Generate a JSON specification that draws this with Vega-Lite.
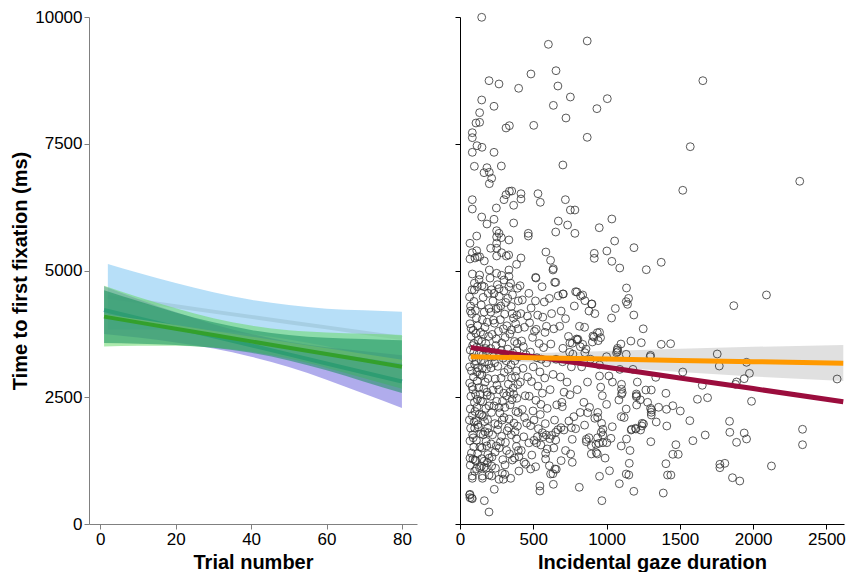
{
"$schema":"https://vega.github.io/schema/vega-lite/v6.json",
"background":"white",
"padding":{"left":10,"top":8,"right":0,"bottom":0},
"config":{"view":{"stroke":null},"font":"Liberation Sans",
 "axis":{"grid":false,"format":"d","labelFontSize":17,"titleFontSize":20,"titleFontWeight":"bold","labelColor":"black","titleColor":"black","tickSize":5,"labelPadding":2,"labelFlush":false,"labelFont":"Liberation Sans","titleFont":"Liberation Sans"}},
"datasets":{
"bands":[
{"g":"Handle Irrelevant","t":2,"m":4480,"lo":3830,"hi":5130},{"g":"Handle Irrelevant","t":10,"m":4397,"lo":3837,"hi":4957},{"g":"Handle Irrelevant","t":20,"m":4293,"lo":3833,"hi":4753},{"g":"Handle Irrelevant","t":30,"m":4189,"lo":3809,"hi":4569},{"g":"Handle Irrelevant","t":40,"m":4085,"lo":3745,"hi":4425},{"g":"Handle Irrelevant","t":50,"m":3981,"lo":3641,"hi":4321},{"g":"Handle Irrelevant","t":60,"m":3878,"lo":3508,"hi":4248},{"g":"Handle Irrelevant","t":70,"m":3774,"lo":3334,"hi":4214},{"g":"Handle Irrelevant","t":80,"m":3670,"lo":3153,"hi":4187},
{"g":"Handle Relevant","t":1,"m":4220,"lo":3750,"hi":4690},{"g":"Handle Relevant","t":10,"m":4059,"lo":3679,"hi":4439},{"g":"Handle Relevant","t":20,"m":3881,"lo":3581,"hi":4181},{"g":"Handle Relevant","t":30,"m":3702,"lo":3462,"hi":3942},{"g":"Handle Relevant","t":40,"m":3524,"lo":3299,"hi":3749},{"g":"Handle Relevant","t":50,"m":3345,"lo":3095,"hi":3595},{"g":"Handle Relevant","t":60,"m":3167,"lo":2847,"hi":3487},{"g":"Handle Relevant","t":70,"m":2988,"lo":2568,"hi":3408},{"g":"Handle Relevant","t":80,"m":2810,"lo":2290,"hi":3330},
{"g":"Find Irrelevant","t":1,"m":4100,"lo":3500,"hi":4700},{"g":"Find Irrelevant","t":10,"m":3998,"lo":3518,"hi":4478},{"g":"Find Irrelevant","t":20,"m":3884,"lo":3514,"hi":4254},{"g":"Find Irrelevant","t":30,"m":3770,"lo":3480,"hi":4060},{"g":"Find Irrelevant","t":40,"m":3656,"lo":3396,"hi":3916},{"g":"Find Irrelevant","t":50,"m":3542,"lo":3262,"hi":3822},{"g":"Find Irrelevant","t":60,"m":3428,"lo":3078,"hi":3778},{"g":"Find Irrelevant","t":70,"m":3314,"lo":2874,"hi":3754},{"g":"Find Irrelevant","t":80,"m":3200,"lo":2670,"hi":3730},
{"g":"Find Relevant","t":1,"m":4090,"lo":3570,"hi":4610},{"g":"Find Relevant","t":10,"m":3977,"lo":3557,"hi":4397},{"g":"Find Relevant","t":20,"m":3852,"lo":3532,"hi":4172},{"g":"Find Relevant","t":30,"m":3727,"lo":3477,"hi":3977},{"g":"Find Relevant","t":40,"m":3602,"lo":3377,"hi":3827},{"g":"Find Relevant","t":50,"m":3477,"lo":3227,"hi":3727},{"g":"Find Relevant","t":60,"m":3352,"lo":3032,"hi":3672},{"g":"Find Relevant","t":70,"m":3228,"lo":2808,"hi":3648},{"g":"Find Relevant","t":80,"m":3103,"lo":2583,"hi":3623}
],
"fit":[
{"gaze":73,"o":3300,"c":3480,"lo":3220,"hi":3380},{"gaze":500,"o":3278,"c":3301,"lo":3190,"hi":3366},{"gaze":1000,"o":3253,"c":3091,"lo":3100,"hi":3410},{"gaze":1500,"o":3227,"c":2881,"lo":3000,"hi":3455},{"gaze":2000,"o":3202,"c":2671,"lo":2910,"hi":3495},{"gaze":2615,"o":3170,"c":2413,"lo":2820,"hi":3530}
],
"pts":[
{"gaze":148,"ttff":9994},{"gaze":603,"ttff":9461},{"gaze":868,"ttff":9527},{"gaze":198,"ttff":8744},{"gaze":266,"ttff":8679},{"gaze":400,"ttff":8594},{"gaze":484,"ttff":8876},{"gaze":655,"ttff":8941},{"gaze":668,"ttff":8639},{"gaze":1657,"ttff":8744},{"gaze":148,"ttff":8363},{"gaze":134,"ttff":8113},{"gaze":109,"ttff":7909},{"gaze":134,"ttff":7923},{"gaze":232,"ttff":8239},{"gaze":314,"ttff":7811},{"gaze":337,"ttff":7856},{"gaze":503,"ttff":7863},{"gaze":753,"ttff":8422},{"gaze":637,"ttff":8257},{"gaze":723,"ttff":8008},{"gaze":1005,"ttff":8389},{"gaze":934,"ttff":8192},{"gaze":84,"ttff":7718},{"gaze":84,"ttff":7620},{"gaze":116,"ttff":7462},{"gaze":150,"ttff":7430},{"gaze":84,"ttff":7331},{"gaze":232,"ttff":7331},{"gaze":868,"ttff":7627},{"gaze":1571,"ttff":7442},{"gaze":98,"ttff":7055},{"gaze":184,"ttff":7028},{"gaze":164,"ttff":6929},{"gaze":200,"ttff":6937},{"gaze":216,"ttff":6819},{"gaze":200,"ttff":6712},{"gaze":282,"ttff":7061},{"gaze":702,"ttff":7081},{"gaze":2318,"ttff":6760},{"gaze":1520,"ttff":6582},{"gaze":84,"ttff":6397},{"gaze":84,"ttff":6213},{"gaze":300,"ttff":6397},{"gaze":314,"ttff":6495},{"gaze":337,"ttff":6562},{"gaze":353,"ttff":6568},{"gaze":416,"ttff":6515},{"gaze":416,"ttff":6410},{"gaze":532,"ttff":6515},{"gaze":548,"ttff":6345},{"gaze":366,"ttff":6286},{"gaze":248,"ttff":6233},{"gaze":719,"ttff":6397},{"gaze":753,"ttff":6193},{"gaze":784,"ttff":6193},{"gaze":148,"ttff":6055},{"gaze":232,"ttff":6010},{"gaze":184,"ttff":5917},{"gaze":366,"ttff":5937},{"gaze":671,"ttff":5976},{"gaze":734,"ttff":5897},{"gaze":653,"ttff":5759},{"gaze":784,"ttff":5733},{"gaze":1036,"ttff":6016},{"gaze":950,"ttff":5844},{"gaze":466,"ttff":5733},{"gaze":466,"ttff":5680},{"gaze":114,"ttff":5680},{"gaze":250,"ttff":5785},{"gaze":266,"ttff":5733},{"gaze":250,"ttff":5661},{"gaze":282,"ttff":5648},{"gaze":250,"ttff":5537},{"gaze":250,"ttff":5438},{"gaze":209,"ttff":5438},{"gaze":334,"ttff":5602},{"gaze":68,"ttff":5537},{"gaze":84,"ttff":5351},{"gaze":114,"ttff":5391},{"gaze":119,"ttff":5272},{"gaze":134,"ttff":5272},{"gaze":68,"ttff":5227},{"gaze":102,"ttff":5247},{"gaze":166,"ttff":5188},{"gaze":284,"ttff":5351},{"gaze":250,"ttff":5286},{"gaze":316,"ttff":5286},{"gaze":332,"ttff":5306},{"gaze":416,"ttff":5247},{"gaze":386,"ttff":5122},{"gaze":586,"ttff":5365},{"gaze":618,"ttff":5201},{"gaze":637,"ttff":5036},{"gaze":653,"ttff":4767},{"gaze":518,"ttff":4852},{"gaze":916,"ttff":5339},{"gaze":916,"ttff":5240},{"gaze":1002,"ttff":5385},{"gaze":1036,"ttff":5181},{"gaze":1090,"ttff":5049},{"gaze":1187,"ttff":5450},{"gaze":1271,"ttff":5016},{"gaze":1373,"ttff":5162},{"gaze":1136,"ttff":4655},{"gaze":705,"ttff":4537},{"gaze":798,"ttff":4576},{"gaze":837,"ttff":4517},{"gaze":2091,"ttff":4517},{"gaze":84,"ttff":4931},{"gaze":134,"ttff":4911},{"gaze":200,"ttff":5010},{"gaze":250,"ttff":4945},{"gaze":284,"ttff":4905},{"gaze":334,"ttff":5010},{"gaze":334,"ttff":4886},{"gaze":300,"ttff":4813},{"gaze":334,"ttff":4681},{"gaze":98,"ttff":4615},{"gaze":119,"ttff":4681},{"gaze":164,"ttff":4681},{"gaze":266,"ttff":4641},{"gaze":232,"ttff":4550},{"gaze":1055,"ttff":5582},
{"gaze":1868,"ttff":4306},{"gaze":1755,"ttff":3353},{"gaze":1769,"ttff":3116},{"gaze":1955,"ttff":3189},{"gaze":1975,"ttff":2972},{"gaze":1939,"ttff":2866},{"gaze":1887,"ttff":2801},{"gaze":1880,"ttff":2755},{"gaze":2573,"ttff":2860},{"gaze":1989,"ttff":2420},{"gaze":1653,"ttff":2736},{"gaze":1620,"ttff":2460},{"gaze":1689,"ttff":2491},{"gaze":1520,"ttff":2998},{"gaze":1373,"ttff":3544},{"gaze":1437,"ttff":3556},{"gaze":1237,"ttff":3576},{"gaze":1166,"ttff":3609},{"gaze":1300,"ttff":3327},{"gaze":1336,"ttff":2893},{"gaze":1405,"ttff":2578},{"gaze":1268,"ttff":2643},{"gaze":1305,"ttff":2643},{"gaze":1203,"ttff":2564},{"gaze":1203,"ttff":2511},{"gaze":1102,"ttff":2755},{"gaze":1102,"ttff":2657},{"gaze":1102,"ttff":2558},{"gaze":1134,"ttff":2268},{"gaze":1307,"ttff":2249},{"gaze":1305,"ttff":2150},{"gaze":1355,"ttff":2302},{"gaze":1409,"ttff":2262},{"gaze":1452,"ttff":2333},{"gaze":1503,"ttff":2229},{"gaze":1568,"ttff":2038},{"gaze":1411,"ttff":1933},{"gaze":1339,"ttff":2012},{"gaze":1252,"ttff":1973},{"gaze":1241,"ttff":1933},{"gaze":1171,"ttff":1868},{"gaze":1200,"ttff":1874},{"gaze":1673,"ttff":1755},{"gaze":1589,"ttff":1643},{"gaze":1839,"ttff":2026},{"gaze":1841,"ttff":1809},{"gaze":1939,"ttff":1795},{"gaze":1955,"ttff":1677},{"gaze":1887,"ttff":1611},{"gaze":2337,"ttff":1868},{"gaze":2337,"ttff":1564},{"gaze":2125,"ttff":1144},{"gaze":1773,"ttff":1178},{"gaze":1773,"ttff":1110},{"gaze":1807,"ttff":1197},{"gaze":1859,"ttff":913},{"gaze":1909,"ttff":848},{"gaze":1473,"ttff":1564},{"gaze":1452,"ttff":1375},{"gaze":1489,"ttff":1375},{"gaze":1405,"ttff":1189},{"gaze":1416,"ttff":966},{"gaze":1439,"ttff":966},{"gaze":1387,"ttff":611},{"gaze":1302,"ttff":1623},{"gaze":1186,"ttff":645},{"gaze":1152,"ttff":966},{"gaze":1134,"ttff":986},{"gaze":1155,"ttff":1197},{"gaze":1087,"ttff":795},{"gaze":968,"ttff":460},{"gaze":952,"ttff":941},{"gaze":814,"ttff":724},{"gaze":545,"ttff":750},{"gaze":545,"ttff":651},{"gaze":637,"ttff":783},{"gaze":618,"ttff":986},{"gaze":657,"ttff":1079},{"gaze":234,"ttff":684},{"gaze":166,"ttff":460},{"gaze":198,"ttff":237},{"gaze":68,"ttff":586},{"gaze":68,"ttff":519},{"gaze":84,"ttff":499},{"gaze":1030,"ttff":1690},{"gaze":939,"ttff":1702},{"gaze":862,"ttff":1670},{"gaze":928,"ttff":1572},{"gaze":896,"ttff":1544},{"gaze":975,"ttff":1755},{"gaze":975,"ttff":1604},{"gaze":1002,"ttff":1604},{"gaze":937,"ttff":1381},{"gaze":896,"ttff":1381},
{"gaze":850,"ttff":3880},{"gaze":900,"ttff":4339},{"gaze":937,"ttff":3773},{"gaze":952,"ttff":3781},{"gaze":914,"ttff":3688},{"gaze":959,"ttff":3675},{"gaze":943,"ttff":3616},{"gaze":796,"ttff":3649},{"gaze":805,"ttff":3643},{"gaze":750,"ttff":3576},{"gaze":852,"ttff":3379},{"gaze":837,"ttff":3544},{"gaze":1098,"ttff":3550},{"gaze":1073,"ttff":3432},{"gaze":1068,"ttff":3379},{"gaze":1134,"ttff":4385},{"gaze":1143,"ttff":4333},{"gaze":1186,"ttff":4122},{"gaze":1034,"ttff":4063},{"gaze":903,"ttff":3590},{"gaze":907,"ttff":3708},{"gaze":1075,"ttff":3465},{"gaze":1075,"ttff":3399},{"gaze":1134,"ttff":3347},{"gaze":1298,"ttff":3300},{"gaze":952,"ttff":3136},{"gaze":1016,"ttff":2919},{"gaze":952,"ttff":2919},{"gaze":800,"ttff":3629},{"gaze":766,"ttff":3564},{"gaze":821,"ttff":3497},{"gaze":702,"ttff":3465},{"gaze":748,"ttff":3386},{"gaze":516,"ttff":4865},{"gaze":634,"ttff":5010},{"gaze":702,"ttff":4537},{"gaze":789,"ttff":4582},{"gaze":823,"ttff":4497},{"gaze":852,"ttff":4405},{"gaze":898,"ttff":4339},{"gaze":646,"ttff":4767},
{"gaze":66,"ttff":572},{"gaze":80,"ttff":507},{"gaze":84,"ttff":947},{"gaze":84,"ttff":901},{"gaze":153,"ttff":947},{"gaze":153,"ttff":901},{"gaze":198,"ttff":966},{"gaze":216,"ttff":947},{"gaze":266,"ttff":882},{"gaze":296,"ttff":882},{"gaze":346,"ttff":901},{"gaze":307,"ttff":980},{"gaze":112,"ttff":1091},{"gaze":134,"ttff":1110},{"gaze":164,"ttff":1118},{"gaze":216,"ttff":1144},{"gaze":187,"ttff":1209},{"gaze":107,"ttff":1249},{"gaze":148,"ttff":1288},{"gaze":289,"ttff":1000},{"gaze":307,"ttff":1164},{"gaze":357,"ttff":1262},{"gaze":402,"ttff":1045},{"gaze":482,"ttff":1085},{"gaze":437,"ttff":1217},{"gaze":516,"ttff":1130},{"gaze":402,"ttff":1328},{"gaze":648,"ttff":1085},{"gaze":634,"ttff":992},{"gaze":755,"ttff":1381},{"gaze":766,"ttff":1217},{"gaze":584,"ttff":1282},{"gaze":584,"ttff":1394},{"gaze":930,"ttff":1406},{"gaze":948,"ttff":1591},{"gaze":880,"ttff":1702},{"gaze":862,"ttff":1623},{"gaze":766,"ttff":1670},{"gaze":653,"ttff":1809},{"gaze":668,"ttff":1860},{"gaze":689,"ttff":1900},{"gaze":653,"ttff":1657},{"gaze":612,"ttff":1683},{"gaze":589,"ttff":1755},{"gaze":552,"ttff":1558},{"gaze":528,"ttff":1722},{"gaze":562,"ttff":1801},{"gaze":698,"ttff":2314},{"gaze":777,"ttff":2117},{"gaze":789,"ttff":1880},{"gaze":743,"ttff":2032},{"gaze":709,"ttff":1854},{"gaze":871,"ttff":2195},{"gaze":884,"ttff":2301},{"gaze":920,"ttff":2085},{"gaze":939,"ttff":2104},{"gaze":966,"ttff":1986},{"gaze":975,"ttff":1868},{"gaze":964,"ttff":1809},{"gaze":1000,"ttff":2360},{"gaze":971,"ttff":2531},{"gaze":1039,"ttff":1919},{"gaze":1107,"ttff":2590},{"gaze":1100,"ttff":2117},{"gaze":1084,"ttff":2446},{"gaze":1205,"ttff":2347},{"gaze":1205,"ttff":2531},{"gaze":1300,"ttff":2282},{"gaze":1305,"ttff":2203},{"gaze":1243,"ttff":1986},{"gaze":1198,"ttff":1888},{"gaze":1232,"ttff":1854},{"gaze":1168,"ttff":1854},{"gaze":1136,"ttff":1677},{"gaze":1100,"ttff":1539},
{"gaze":65,"ttff":4480},{"gaze":72,"ttff":4300},{"gaze":80,"ttff":4150},{"gaze":68,"ttff":3950},{"gaze":90,"ttff":3820},{"gaze":75,"ttff":3700},{"gaze":95,"ttff":3560},{"gaze":70,"ttff":3430},{"gaze":85,"ttff":3280},{"gaze":100,"ttff":3150},{"gaze":78,"ttff":3020},{"gaze":92,"ttff":2900},{"gaze":66,"ttff":2780},{"gaze":88,"ttff":2650},{"gaze":74,"ttff":2520},{"gaze":98,"ttff":2400},{"gaze":70,"ttff":2270},{"gaze":84,"ttff":2140},{"gaze":96,"ttff":2010},{"gaze":72,"ttff":1890},{"gaze":86,"ttff":1760},{"gaze":68,"ttff":1640},{"gaze":94,"ttff":1520},{"gaze":78,"ttff":1400},{"gaze":88,"ttff":1280},{"gaze":70,"ttff":1160},{"gaze":100,"ttff":1040},{"gaze":82,"ttff":4620},{"gaze":95,"ttff":4390},{"gaze":105,"ttff":4210},{"gaze":112,"ttff":4060},{"gaze":120,"ttff":3910},{"gaze":108,"ttff":3760},{"gaze":125,"ttff":3620},{"gaze":115,"ttff":3490},{"gaze":130,"ttff":3350},{"gaze":110,"ttff":3210},{"gaze":122,"ttff":3080},{"gaze":135,"ttff":2950},{"gaze":118,"ttff":2820},{"gaze":128,"ttff":2690},{"gaze":106,"ttff":2560},{"gaze":140,"ttff":2430},{"gaze":115,"ttff":2300},{"gaze":132,"ttff":2170},{"gaze":108,"ttff":2040},{"gaze":126,"ttff":1910},{"gaze":142,"ttff":1780},{"gaze":112,"ttff":1650},{"gaze":136,"ttff":1520},{"gaze":120,"ttff":1390},{"gaze":104,"ttff":1260},{"gaze":146,"ttff":1140},{"gaze":150,"ttff":4700},{"gaze":158,"ttff":4470},{"gaze":145,"ttff":4320},{"gaze":165,"ttff":4180},{"gaze":152,"ttff":4030},{"gaze":170,"ttff":3880},{"gaze":160,"ttff":3740},{"gaze":148,"ttff":3600},{"gaze":175,"ttff":3460},{"gaze":155,"ttff":3330},{"gaze":168,"ttff":3190},{"gaze":180,"ttff":3060},{"gaze":150,"ttff":2930},{"gaze":172,"ttff":2800},{"gaze":162,"ttff":2670},{"gaze":185,"ttff":2540},{"gaze":155,"ttff":2410},{"gaze":176,"ttff":2280},{"gaze":148,"ttff":2150},{"gaze":168,"ttff":2020},{"gaze":188,"ttff":1890},{"gaze":158,"ttff":1760},{"gaze":178,"ttff":1630},{"gaze":150,"ttff":1500},{"gaze":190,"ttff":1370},{"gaze":165,"ttff":1240},{"gaze":180,"ttff":1100},{"gaze":192,"ttff":4550},{"gaze":198,"ttff":4250},{"gaze":186,"ttff":3980},{"gaze":195,"ttff":3700},{"gaze":182,"ttff":3420},{"gaze":197,"ttff":3150},{"gaze":190,"ttff":2870},{"gaze":184,"ttff":2600},{"gaze":198,"ttff":2330},{"gaze":188,"ttff":2060},{"gaze":196,"ttff":1800},{"gaze":183,"ttff":1540},{"gaze":199,"ttff":1300},{"gaze":76,"ttff":3860},{"gaze":94,"ttff":3380},{"gaze":82,"ttff":2710},{"gaze":102,"ttff":2220},{"gaze":90,"ttff":1700},{"gaze":116,"ttff":3000},{"gaze":138,"ttff":2560},{"gaze":122,"ttff":1960},{"gaze":144,"ttff":3230},{"gaze":160,"ttff":2120},{"gaze":176,"ttff":3560},{"gaze":170,"ttff":1820},{"gaze":64,"ttff":2050},{"gaze":66,"ttff":3100},{"gaze":68,"ttff":1300},{"gaze":71,"ttff":4200},{"gaze":98,"ttff":4750},{"gaze":130,"ttff":4820},{"gaze":100,"ttff":1890},{"gaze":140,"ttff":3780},{"gaze":86,"ttff":3520},{"gaze":118,"ttff":2460},{"gaze":152,"ttff":3070},
{"gaze":205,"ttff":4850},{"gaze":215,"ttff":4620},{"gaze":225,"ttff":4400},{"gaze":210,"ttff":4180},{"gaze":235,"ttff":3960},{"gaze":220,"ttff":3740},{"gaze":245,"ttff":3520},{"gaze":230,"ttff":3300},{"gaze":212,"ttff":3080},{"gaze":240,"ttff":2860},{"gaze":225,"ttff":2640},{"gaze":250,"ttff":2420},{"gaze":215,"ttff":2200},{"gaze":238,"ttff":1980},{"gaze":222,"ttff":1760},{"gaze":248,"ttff":1540},{"gaze":218,"ttff":1320},{"gaze":242,"ttff":1100},{"gaze":255,"ttff":4720},{"gaze":268,"ttff":4490},{"gaze":260,"ttff":4260},{"gaze":275,"ttff":4030},{"gaze":262,"ttff":3800},{"gaze":285,"ttff":3570},{"gaze":270,"ttff":3340},{"gaze":258,"ttff":3110},{"gaze":280,"ttff":2880},{"gaze":265,"ttff":2650},{"gaze":290,"ttff":2420},{"gaze":272,"ttff":2190},{"gaze":260,"ttff":1960},{"gaze":284,"ttff":1730},{"gaze":268,"ttff":1500},{"gaze":292,"ttff":1270},{"gaze":300,"ttff":4600},{"gaze":312,"ttff":4370},{"gaze":305,"ttff":4140},{"gaze":320,"ttff":3910},{"gaze":308,"ttff":3680},{"gaze":325,"ttff":3450},{"gaze":315,"ttff":3220},{"gaze":302,"ttff":2990},{"gaze":330,"ttff":2760},{"gaze":318,"ttff":2530},{"gaze":306,"ttff":2300},{"gaze":335,"ttff":2070},{"gaze":322,"ttff":1840},{"gaze":310,"ttff":1610},{"gaze":338,"ttff":1380},{"gaze":345,"ttff":4750},{"gaze":358,"ttff":4520},{"gaze":350,"ttff":4290},{"gaze":365,"ttff":4060},{"gaze":352,"ttff":3830},{"gaze":372,"ttff":3600},{"gaze":360,"ttff":3370},{"gaze":348,"ttff":3140},{"gaze":378,"ttff":2910},{"gaze":362,"ttff":2680},{"gaze":355,"ttff":2450},{"gaze":382,"ttff":2220},{"gaze":368,"ttff":1990},{"gaze":350,"ttff":1760},{"gaze":385,"ttff":1530},{"gaze":372,"ttff":1300},{"gaze":392,"ttff":4650},{"gaze":398,"ttff":4400},{"gaze":388,"ttff":4120},{"gaze":396,"ttff":3850},{"gaze":390,"ttff":3560},{"gaze":398,"ttff":3300},{"gaze":386,"ttff":3020},{"gaze":394,"ttff":2750},{"gaze":388,"ttff":2480},{"gaze":397,"ttff":2200},{"gaze":392,"ttff":1930},{"gaze":386,"ttff":1680},{"gaze":398,"ttff":1450},{"gaze":228,"ttff":4020},{"gaze":248,"ttff":3650},{"gaze":236,"ttff":3180},{"gaze":252,"ttff":2740},{"gaze":232,"ttff":2330},{"gaze":256,"ttff":1860},{"gaze":240,"ttff":1420},{"gaze":278,"ttff":4300},{"gaze":296,"ttff":3850},{"gaze":282,"ttff":3420},{"gaze":298,"ttff":2580},{"gaze":288,"ttff":2050},{"gaze":276,"ttff":1620},{"gaze":326,"ttff":4450},{"gaze":340,"ttff":3750},{"gaze":328,"ttff":3050},{"gaze":342,"ttff":2350},{"gaze":332,"ttff":1900},{"gaze":356,"ttff":4150},{"gaze":374,"ttff":3220},{"gaze":366,"ttff":2560},{"gaze":376,"ttff":1820},{"gaze":208,"ttff":2520},{"gaze":212,"ttff":1580},{"gaze":266,"ttff":2300},{"gaze":294,"ttff":3270},{"gaze":318,"ttff":1450},{"gaze":352,"ttff":2880},{"gaze":380,"ttff":3950},{"gaze":210,"ttff":3460},{"gaze":246,"ttff":4240},{"gaze":300,"ttff":2100},{"gaze":340,"ttff":2600},{"gaze":388,"ttff":3420},
{"gaze":410,"ttff":4700},{"gaze":425,"ttff":4420},{"gaze":415,"ttff":4150},{"gaze":440,"ttff":3880},{"gaze":420,"ttff":3610},{"gaze":450,"ttff":3340},{"gaze":430,"ttff":3070},{"gaze":412,"ttff":2800},{"gaze":445,"ttff":2530},{"gaze":425,"ttff":2260},{"gaze":455,"ttff":1990},{"gaze":435,"ttff":1720},{"gaze":418,"ttff":1450},{"gaze":448,"ttff":1180},{"gaze":470,"ttff":4550},{"gaze":485,"ttff":4260},{"gaze":475,"ttff":3970},{"gaze":495,"ttff":3680},{"gaze":480,"ttff":3390},{"gaze":500,"ttff":3100},{"gaze":488,"ttff":2810},{"gaze":472,"ttff":2520},{"gaze":498,"ttff":2230},{"gaze":482,"ttff":1940},{"gaze":505,"ttff":1650},{"gaze":490,"ttff":1360},{"gaze":515,"ttff":4400},{"gaze":530,"ttff":4120},{"gaze":520,"ttff":3840},{"gaze":540,"ttff":3560},{"gaze":525,"ttff":3280},{"gaze":545,"ttff":3000},{"gaze":532,"ttff":2720},{"gaze":518,"ttff":2440},{"gaze":548,"ttff":2160},{"gaze":535,"ttff":1880},{"gaze":522,"ttff":1600},{"gaze":560,"ttff":4680},{"gaze":575,"ttff":4380},{"gaze":565,"ttff":4080},{"gaze":580,"ttff":3780},{"gaze":570,"ttff":3480},{"gaze":590,"ttff":3180},{"gaze":578,"ttff":2880},{"gaze":562,"ttff":2580},{"gaze":595,"ttff":2280},{"gaze":582,"ttff":1980},{"gaze":568,"ttff":1720},{"gaze":595,"ttff":1480},{"gaze":432,"ttff":3500},{"gaze":462,"ttff":2900},{"gaze":508,"ttff":3800},{"gaze":552,"ttff":2360},{"gaze":460,"ttff":4100},{"gaze":505,"ttff":2050},{"gaze":590,"ttff":3900},{"gaze":440,"ttff":2100},{"gaze":470,"ttff":1600},{"gaze":555,"ttff":3250},
{"gaze":610,"ttff":4450},{"gaze":625,"ttff":4150},{"gaze":640,"ttff":3850},{"gaze":620,"ttff":3550},{"gaze":655,"ttff":3250},{"gaze":635,"ttff":2950},{"gaze":615,"ttff":2650},{"gaze":660,"ttff":2350},{"gaze":645,"ttff":2050},{"gaze":625,"ttff":1750},{"gaze":670,"ttff":4500},{"gaze":690,"ttff":4200},{"gaze":680,"ttff":3900},{"gaze":700,"ttff":3200},{"gaze":685,"ttff":2900},{"gaze":710,"ttff":2600},{"gaze":695,"ttff":2400},{"gaze":720,"ttff":4050},{"gaze":740,"ttff":3700},{"gaze":730,"ttff":2800},{"gaze":760,"ttff":3100},{"gaze":750,"ttff":2550},{"gaze":780,"ttff":4300},{"gaze":770,"ttff":3350},{"gaze":800,"ttff":2650},{"gaze":815,"ttff":3900},{"gaze":830,"ttff":3100},{"gaze":845,"ttff":2400},{"gaze":860,"ttff":3450},{"gaze":880,"ttff":4200},{"gaze":870,"ttff":2800},{"gaze":890,"ttff":3250},{"gaze":720,"ttff":1450},{"gaze":690,"ttff":1250},{"gaze":640,"ttff":1500},{"gaze":610,"ttff":1150},{"gaze":760,"ttff":1900},{"gaze":820,"ttff":2200},{"gaze":850,"ttff":1950},
{"gaze":920,"ttff":4150},{"gaze":960,"ttff":2700},{"gaze":1000,"ttff":3300},{"gaze":1040,"ttff":2800},{"gaze":1060,"ttff":4250},{"gaze":1090,"ttff":3050},{"gaze":1120,"ttff":2100},{"gaze":1150,"ttff":4450},{"gaze":1180,"ttff":3050},{"gaze":1210,"ttff":2800},{"gaze":1250,"ttff":3850},{"gaze":1280,"ttff":2400},{"gaze":940,"ttff":2200},{"gaze":990,"ttff":1300},{"gaze":1020,"ttff":1050},{"gaze":1160,"ttff":1450},{"gaze":1230,"ttff":2450}
]
},
"spacing":37,
"hconcat":[
{
"width":328,"height":507,
"encoding":{"x":{"field":"t","type":"quantitative","title":"Trial number","scale":{"domain":[-3,84],"nice":false,"zero":false},"axis":{"values":[0,20,40,60,80],"domainColor":"#808080","tickColor":"#808080","titlePadding":5}}},
"layer":[
{"data":{"name":"bands"},"transform":[{"filter":"datum.g === 'Handle Irrelevant'"}],"mark":{"type":"area","interpolate":"monotone","opacity":0.55},
 "encoding":{"y":{"field":"lo","type":"quantitative","title":"Time to first fixation (ms)","scale":{"domain":[0,10000],"nice":false},"axis":{"values":[0,2500,5000,7500,10000],"domainColor":"#808080","tickColor":"#808080","titlePadding":4}},"y2":{"field":"hi"},
 "fill":{"field":"g","type":"nominal","scale":{"domain":["Handle Irrelevant","Handle Relevant","Find Irrelevant","Find Relevant"],"range":["#7cc5f2","#7068dc","#6ad86a","#1a8f5f"]},"legend":null}}},
{"data":{"name":"bands"},"transform":[{"filter":"datum.g === 'Handle Irrelevant'"}],"mark":{"type":"line","strokeWidth":4},
 "encoding":{"y":{"field":"m","type":"quantitative","title":"Time to first fixation (ms)"},
 "stroke":{"field":"g","type":"nominal","scale":{"domain":["Handle Irrelevant","Handle Relevant","Find Irrelevant","Find Relevant"],"range":["#a6cee3","#1f78b4","#b2df8a","#33a02c"]},
  "legend":{"orient":"none","legendX":115,"legendY":77,"title":null,"symbolType":"M-0.7,0L0.7,0","symbolSize":289,"symbolStrokeWidth":4,"labelFontSize":17,"labelFontWeight":"bold","labelColor":"black","rowPadding":0,"padding":0,"labelOffset":1,"encode":{"symbols":{"update":{"fill":{"value":"transparent"}}}}}}}},
{"data":{"name":"bands"},"transform":[{"filter":"datum.g === 'Handle Relevant'"}],"mark":{"type":"area","interpolate":"monotone","opacity":0.55},
 "encoding":{"y":{"field":"lo","type":"quantitative","title":"Time to first fixation (ms)"},"y2":{"field":"hi"},"fill":{"field":"g","type":"nominal"}}},
{"data":{"name":"bands"},"transform":[{"filter":"datum.g === 'Handle Relevant'"}],"mark":{"type":"line","strokeWidth":4},
 "encoding":{"y":{"field":"m","type":"quantitative","title":"Time to first fixation (ms)"},"stroke":{"field":"g","type":"nominal"}}},
{"data":{"name":"bands"},"transform":[{"filter":"datum.g === 'Find Irrelevant'"}],"mark":{"type":"area","interpolate":"monotone","opacity":0.55},
 "encoding":{"y":{"field":"lo","type":"quantitative","title":"Time to first fixation (ms)"},"y2":{"field":"hi"},"fill":{"field":"g","type":"nominal"}}},
{"data":{"name":"bands"},"transform":[{"filter":"datum.g === 'Find Irrelevant'"}],"mark":{"type":"line","strokeWidth":4},
 "encoding":{"y":{"field":"m","type":"quantitative","title":"Time to first fixation (ms)"},"stroke":{"field":"g","type":"nominal"}}},
{"data":{"name":"bands"},"transform":[{"filter":"datum.g === 'Find Relevant'"}],"mark":{"type":"area","interpolate":"monotone","opacity":0.55},
 "encoding":{"y":{"field":"lo","type":"quantitative","title":"Time to first fixation (ms)"},"y2":{"field":"hi"},"fill":{"field":"g","type":"nominal"}}},
{"data":{"name":"bands"},"transform":[{"filter":"datum.g === 'Find Relevant'"}],"mark":{"type":"line","strokeWidth":4},
 "encoding":{"y":{"field":"m","type":"quantitative","title":"Time to first fixation (ms)"},"stroke":{"field":"g","type":"nominal"}}}
]
},
{
"width":384,"height":507,
"encoding":{"x":{"field":"gaze","type":"quantitative","title":"Incidental gaze duration","scale":{"domain":[0,2620],"nice":false},"axis":{"values":[0,500,1000,1500,2000,2500],"domainColor":"black","tickColor":"black","titlePadding":5}}},
"layer":[
{"data":{"name":"fit"},"mark":{"type":"area","color":"#cccccc","opacity":0.6},
 "encoding":{"y":{"field":"lo","type":"quantitative","scale":{"domain":[0,10000],"nice":false},"axis":{"values":[0,2500,5000,7500,10000],"labels":false,"title":null,"domainColor":"black","tickColor":"black"}},"y2":{"field":"hi"}}},
{"data":{"name":"pts"},"mark":{"type":"point","shape":"circle","filled":false,"stroke":"#333333","strokeWidth":0.9,"size":62,"opacity":0.9},
 "encoding":{"y":{"field":"ttff","type":"quantitative"}}},
{"data":{"name":"fit"},"mark":{"type":"line","stroke":"#9b0d3d","strokeWidth":5},
 "encoding":{"y":{"field":"c","type":"quantitative"}}},
{"data":{"name":"fit"},"mark":{"type":"line","stroke":"#ff9900","strokeWidth":5},
 "encoding":{"y":{"field":"o","type":"quantitative"}}}
]
}
]
}
